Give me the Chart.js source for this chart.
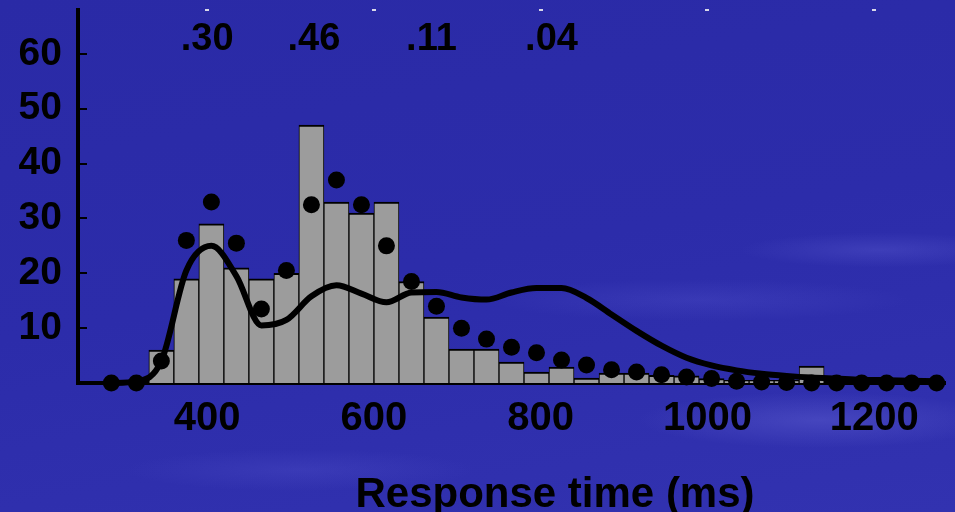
<!DOCTYPE html>
<html>
<head>
<meta charset="utf-8">
<script src="https://cdn.jsdelivr.net/npm/chart.js@4.4.1/dist/chart.umd.min.js"></script>
<style>
   html, body { margin: 0; padding: 0; }
   body {
      width: 955px;
      height: 512px;
      overflow: hidden;
      background:
         radial-gradient(ellipse 260px 40px at 820px 420px, rgba(110,110,220,0.35), rgba(110,110,220,0) 70%),
         radial-gradient(ellipse 300px 30px at 700px 300px, rgba(90,90,210,0.25), rgba(90,90,210,0) 70%),
         radial-gradient(ellipse 200px 25px at 880px 250px, rgba(100,100,215,0.3), rgba(100,100,215,0) 70%),
         radial-gradient(ellipse 250px 30px at 300px 470px, rgba(90,90,210,0.25), rgba(90,90,210,0) 70%),
         linear-gradient(170deg, #2a2aa6 0%, #2c2caa 50%, #3232b0 100%);
   }
</style>
</head>
<body>
<canvas id="rtChart" width="955" height="512"></canvas>
<script>
/* =====================================
   DATA
===================================== */
// bin centres in ms (30 ms bins)
const binCenters = [285, 315, 345, 375, 405, 435, 465, 495, 525, 555, 585, 615, 645, 675, 705, 735, 765,
                    795, 825, 855, 885, 915, 945, 975, 1005, 1035, 1065, 1095, 1125, 1155, 1185, 1215, 1245, 1275];

// grey histogram (observed)
const barValues = [0, 0, 6, 19, 29, 21, 19, 20, 47, 33, 31, 33, 18.5, 12, 6.2, 6.2, 3.8,
                   2, 2.9, 0.9, 1.8, 1.8, 1.4, 1.3, 0.8, 0.5, 0.5, 0.5, 3.1, 0, 0, 0, 0, 0];

// black dots
const dotValues = [0, 0, 4, 26, 33, 25.5, 13.5, 20.5, 32.5, 37, 32.5, 25, 18.5, 14, 10, 8, 6.5,
                   5.5, 4.2, 3.3, 2.4, 2, 1.5, 1.1, 0.8, 0.3, 0.2, 0.1, 0, 0, 0, 0, 0, 0];

// thick black curve
const curveValues = [0, 0.3, 4, 20.5, 25, 19.5, 10.5, 11.5, 15.8, 17.8, 16.3, 14.7, 16.5, 16.6, 15.6, 15.2, 16.5,
                     17.3, 17.3, 15.5, 12.5, 9.5, 6.8, 4.6, 3.2, 2.3, 1.7, 1.3, 1, 0.8, 0.6, 0.5, 0.4, 0.3];

const xTicks = [400, 600, 800, 1000, 1200];
const yTicks = [10, 20, 30, 40, 50, 60];

// numbers printed along the top
const topLabels = [".30", ".46", ".11", ".04"];
const topLabelAt = [400, 528, 669, 813];

const axisTitle = "Response time (ms)";

/* =====================================
   BUILD DATASETS
===================================== */
const fontFamily = "'Liberation Sans', Arial, sans-serif";

const barPoints = [];
binCenters.forEach(function(c, i) {
   if (barValues[i] > 0) barPoints.push({ x: c, y: barValues[i] });
});
const dotPoints = binCenters.map((c, i) => ({ x: c, y: dotValues[i] }));
const curvePoints = binCenters.map((c, i) => ({ x: c, y: curveValues[i] }));

/* =====================================
   EXTRA DRAWING (top numbers, title, small ticks)
===================================== */
const extrasPlugin = {
   id: "extras",
   afterDraw(chart) {
      const ctx = chart.ctx;
      const xs = chart.scales.x;
      const ys = chart.scales.y;
      const area = chart.chartArea;
      ctx.save();

      // little tick marks inside the y axis
      ctx.fillStyle = "#000";
      yTicks.forEach(v => {
         const py = Math.round(ys.getPixelForValue(v));
         ctx.fillRect(area.left, py - 1, 9, 2);
      });

      // tiny marks on top edge
      ctx.fillStyle = "#d8d8e8";
      xTicks.forEach(v => {
         const px = Math.round(xs.getPixelForValue(v));
         ctx.fillRect(px - 2, area.top - 1, 4, 2);
      });

      // numbers along the top
      ctx.fillStyle = "#000";
      ctx.font = "bold 38px " + fontFamily;
      ctx.textAlign = "center";
      ctx.textBaseline = "alphabetic";
      topLabels.forEach((t, i) => {
         ctx.fillText(t, xs.getPixelForValue(topLabelAt[i]), 50);
      });

      // x axis title
      ctx.font = "bold 42px " + fontFamily;
      ctx.fillText(axisTitle, 555, 507);

      ctx.restore();
   }
};

/* =====================================
   CHART
===================================== */
const canvas = document.getElementById("rtChart");

new Chart(canvas, {
   type: "bar",
   data: {
      datasets: [
         {
            type: "line",
            label: "dots",
            data: dotPoints,
            showLine: false,
            pointRadius: 8.5,
            pointBackgroundColor: "#000",
            pointBorderWidth: 0,
            clip: false,
            order: 0
         },
         {
            type: "line",
            label: "curve",
            data: curvePoints,
            borderColor: "#000",
            borderWidth: 6,
            pointRadius: 0,
            cubicInterpolationMode: "monotone",
            fill: false,
            clip: false,
            order: 1
         },
         {
            type: "bar",
            label: "histogram",
            data: barPoints,
            backgroundColor: "#9c9c9c",
            borderColor: "#000",
            borderWidth: { top: 2, left: 1, right: 1, bottom: 0 },
            borderSkipped: false,
            categoryPercentage: 1,
            barPercentage: 1,
            order: 2
         }
      ]
   },
   options: {
      responsive: false,
      animation: false,
      devicePixelRatio: 1,
      layout: { padding: { top: 10, right: 10, left: 0, bottom: 0 } },
      plugins: {
         legend: { display: false },
         tooltip: { enabled: false }
      },
      scales: {
         x: {
            type: "linear",
            min: 245,
            max: 1285,
            offset: false,
            afterBuildTicks: s => { s.ticks = xTicks.map(v => ({ value: v })); },
            afterFit: s => { s.height = 129; s.paddingLeft = 0; s.paddingRight = 0; },
            grid: { display: false, drawTicks: false, offset: false },
            border: { display: true, color: "#000", width: 4 },
            ticks: {
               color: "#000",
               padding: 12,
               maxRotation: 0,
               callback: v => String(v),
               font: { family: fontFamily, size: 40, weight: "bold" }
            }
         },
         y: {
            type: "linear",
            min: 0,
            max: 68,
            afterBuildTicks: s => { s.ticks = yTicks.map(v => ({ value: v })); },
            afterFit: s => { s.width = 78; s.paddingTop = 0; s.paddingBottom = 0; },
            grid: { display: false, drawTicks: false },
            border: { display: true, color: "#000", width: 4 },
            ticks: {
               color: "#000",
               padding: 16,
               callback: v => String(v),
               font: { family: fontFamily, size: 39, weight: "bold" }
            }
         }
      }
   },
   plugins: [extrasPlugin]
});
</script>
</body>
</html>
